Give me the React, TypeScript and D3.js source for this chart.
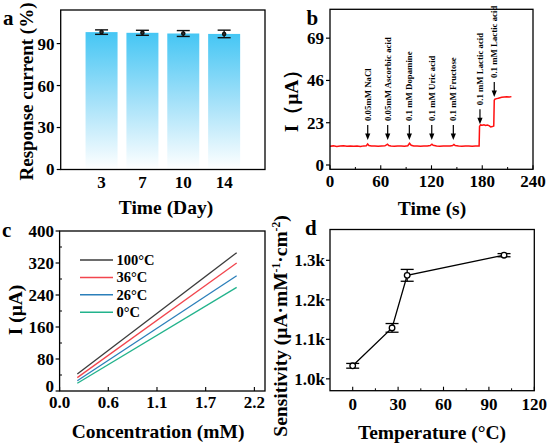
import React from 'react';
import * as d3 from 'd3';

// ---------- Panel a data ----------
const dayLabels = ['3', '7', '10', '14'];
const responseValues = [98.2, 97.7, 97.2, 96.9];
const responseErrors = [1.6, 1.8, 2.1, 2.7];
const responseTicks = [0, 30, 60, 90];

// ---------- Panel b data ----------
const ampTime = [0, 4, 8, 12, 16, 20, 24, 28, 32, 36, 40, 43, 44.5, 46, 49, 53, 57, 61, 65, 68, 69.5, 72, 76, 80, 84, 88, 92, 94, 96, 99, 103, 107, 111, 115, 118.5, 120.5, 122, 126, 130, 134, 138, 142, 145, 146.5, 148, 152, 156, 160, 164, 168, 172, 176.3, 176.8, 178, 180, 182, 184, 186, 188, 190, 192, 193.6, 194.2, 195, 197, 199, 201, 203, 206, 209, 212, 214.5];
const ampCurrent = [10.2, 10.4, 10.1, 10.3, 10.5, 10.2, 10.4, 10.2, 10.3, 10.1, 10.4, 10.5, 11.4, 10.6, 10.3, 10.4, 10.2, 10.3, 10.4, 11.3, 10.6, 10.3, 10.2, 10.4, 10.3, 10.2, 10.5, 11.8, 10.7, 10.3, 10.4, 10.2, 10.3, 10.4, 10.6, 11.3, 10.7, 10.3, 10.2, 10.4, 10.3, 10.4, 10.6, 11.2, 10.6, 10.3, 10.2, 10.4, 10.3, 10.2, 10.3, 10.3, 21.0, 21.8, 21.6, 21.9, 21.5, 21.7, 21.4, 20.7, 20.9, 21.2, 35.2, 35.8, 36.1, 36.3, 36.6, 36.8, 37.0, 37.1, 37.0, 37.2];
const eventTimes = [44.6, 68.2, 93.8, 120.3, 145.8, 177.3, 194.2];
const eventTips = [13.6, 13.6, 13.6, 13.6, 13.6, 22.2, 37.0];
const eventLabels = ['0.05mM NaCl', '0.05mM Ascorbic acid', '0.1 mM Dopamine', '0.1 mM Uric acid', '0.1 mM Fructose', '0.1 mM Lactic acid', '0.1 mM Lactic acid'];
const timeTicks = [0, 60, 120, 180, 240];
const currentTicks = [0, 23, 46, 69];

// ---------- Panel c data ----------
const concentrations = [0.2, 2.0];
const seriesNames = ['100°C', '36°C', '26°C', '0°C'];
const series100 = [42.5, 345.8];
const series36 = [33.5, 320];
const series26 = [25.8, 288];
const series0 = [19.3, 259];
const concTicks = [0, 0.55, 1.1, 1.65, 2.2];
const concTickLabels = ['0.0', '0.6', '1.1', '1.7', '2.2'];
const calTicks = [0, 80, 160, 240, 320, 400];

// ---------- Panel d data ----------
const temperatures = [0, 26, 36, 100];
const sensitivity = [1033, 1129, 1262, 1313];
const sensitivityErr = [6, 11, 15, 4];
const tempTicks = [0, 30, 60, 90, 120];
const sensTicks = [1000, 1100, 1200, 1300];

const FONT = '"Liberation Serif", "Times New Roman", serif';
const seriesColors = ['#3c3c3c', '#f2464e', '#2b7fba', '#22b38c'];

function Frame({ x0, x1, y0, y1 }: { x0: number; x1: number; y0: number; y1: number }) {
  return <rect x={x0} y={y0} width={x1 - x0} height={y1 - y0} fill="none" stroke="#000" strokeWidth={1.3} />;
}

export default function App() {
  // ---------- Panel a ----------
  const aX = d3.scaleLinear().domain([0, 5]).range([60.7, 265]);
  const aY = d3.scaleLinear().domain([0, 114]).range([169.5, 10]);
  const barW = 32;

  // ---------- Panel b ----------
  const bX = d3.scaleLinear().domain([0, 240]).range([330, 533]);
  const bY = d3.scaleLinear().domain([-2.34, 84.7]).range([169.3, 9.3]);
  const bLine = d3
    .line<number>()
    .x((_, i) => bX(ampTime[i]))
    .y((v) => bY(v));

  // ---------- Panel c ----------
  const cX = d3.scaleLinear().domain([0, 2.32]).range([59.6, 265]);
  const cY = d3.scaleLinear().domain([0, 400]).range([391, 231]);
  const cSeries = [series100, series36, series26, series0];
  const cLine = d3
    .line<number>()
    .x((_, i) => cX(concentrations[i]))
    .y((v) => cY(v));

  // ---------- Panel d ----------
  const dX = d3.scaleLinear().domain([-15, 120]).range([330, 534.3]);
  const dY = d3.scaleLinear().domain([970, 1378]).range([390.7, 229.5]);
  const dLine = d3
    .line<number>()
    .x((_, i) => dX(temperatures[i]))
    .y((v) => dY(v));
  const fmtK = (v: number) => (v / 1000).toFixed(1) + 'k';

  const tickFont = 17;
  const titleFont = 19.5;

  return (
    <svg
      width={550}
      height={448}
      viewBox="0 0 550 448"
      style={{ position: 'absolute', left: 0, top: 0, background: '#fff' }}
      fontFamily={FONT}
      fontWeight="bold"
    >
      <defs>
        <linearGradient id="barGrad" x1="0" y1="0" x2="0" y2="1">
          <stop offset="0%" stopColor="#45c6f4" />
          <stop offset="50%" stopColor="#a4e1f9" />
          <stop offset="100%" stopColor="#ffffff" />
        </linearGradient>
      </defs>
      <rect x={0} y={0} width={550} height={448} fill="#fff" />

      {/* ================= Panel a ================= */}
      <g>
        {responseValues.map((v, i) => (
          <rect key={i} x={aX(i + 1) - barW / 2} y={aY(v)} width={barW} height={aY(0) - aY(v)} fill="url(#barGrad)" />
        ))}
        {responseValues.map((v, i) => {
          const cx = aX(i + 1);
          const lo = aY(v - responseErrors[i]);
          const hi = aY(v + responseErrors[i]);
          return (
            <g key={i} stroke="#111" strokeWidth={1.4}>
              <line x1={cx} x2={cx} y1={lo} y2={hi} />
              <line x1={cx - 6.5} x2={cx + 6.5} y1={lo} y2={lo} />
              <line x1={cx - 6.5} x2={cx + 6.5} y1={hi} y2={hi} />
              <circle cx={cx} cy={aY(v)} r={1.6} fill="#333" />
            </g>
          );
        })}
        <Frame x0={60.7} x1={265} y0={10} y1={169.5} />
        {responseTicks.map((t) => (
          <g key={t}>
            <line x1={60.7} x2={56.7} y1={aY(t)} y2={aY(t)} stroke="#000" strokeWidth={1.2} />
            <text x={54.5} y={aY(t)} dy="0.35em" textAnchor="end" fontSize={tickFont}>
              {t}
            </text>
          </g>
        ))}
        {dayLabels.map((l, i) => (
          <text key={l} x={aX(i + 1)} y={188} textAnchor="middle" fontSize={tickFont}>
            {l}
          </text>
        ))}
        <text x={166} y={214} textAnchor="middle" fontSize={titleFont}>
          Time (Day)
        </text>
        <text transform={`translate(33,91.5) rotate(-90)`} textAnchor="middle" fontSize={19}>
          Response current (%)
        </text>
        <text x={3} y={25} fontSize={21}>
          a
        </text>
      </g>

      {/* ================= Panel b ================= */}
      <g>
        <path d={bLine(ampCurrent) || ''} fill="none" stroke="#ff1010" strokeWidth={1.5} />
        {eventTimes.map((t, i) => {
          const x = bX(t);
          const tip = bY(eventTips[i]);
          const top = tip - 15;
          return (
            <g key={i}>
              <line x1={x} x2={x} y1={top} y2={tip - 5} stroke="#000" strokeWidth={1.2} />
              <path d={`M${x - 2.6},${tip - 6.5} L${x + 2.6},${tip - 6.5} L${x},${tip} Z`} fill="#000" />
              <text transform={`translate(${x + 3},${top - 4}) rotate(-90)`} fontSize={8.8}>
                {eventLabels[i]}
              </text>
            </g>
          );
        })}
        <Frame x0={330} x1={533} y0={9.3} y1={169.3} />
        {currentTicks.map((t) => (
          <g key={t}>
            <line x1={330} x2={326} y1={bY(t)} y2={bY(t)} stroke="#000" strokeWidth={1.2} />
            <text x={324} y={bY(t)} dy="0.35em" textAnchor="end" fontSize={tickFont}>
              {t}
            </text>
          </g>
        ))}
        {timeTicks.map((t) => (
          <g key={t}>
            <line x1={bX(t)} x2={bX(t)} y1={169.3} y2={165.3} stroke="#000" strokeWidth={1.1} />
            <text x={bX(t)} y={187} textAnchor="middle" fontSize={tickFont}>
              {t}
            </text>
          </g>
        ))}
        {timeTicks.slice(0, -1).map((t) => (
          <line key={t} x1={bX(t + 30)} x2={bX(t + 30)} y1={169.3} y2={167} stroke="#000" strokeWidth={1} />
        ))}
        <text x={432} y={215} textAnchor="middle" fontSize={titleFont}>
          Time (s)
        </text>
        <text transform={`translate(298,96) rotate(-90)`} textAnchor="middle" fontSize={titleFont}>
          I（μA）
        </text>
        <text x={306.5} y={25} fontSize={21}>
          b
        </text>
      </g>

      {/* ================= Panel c ================= */}
      <g>
        {cSeries.map((s, i) => (
          <path key={i} d={cLine(s) || ''} fill="none" stroke={seriesColors[i]} strokeWidth={1.3} />
        ))}
        {seriesNames.map((n, i) => {
          const y = 260 + i * 17.4;
          return (
            <g key={n}>
              <line x1={80} x2={113} y1={y} y2={y} stroke={seriesColors[i]} strokeWidth={1.5} />
              <text x={116.5} y={y} dy="0.35em" fontSize={14.5}>
                {n}
              </text>
            </g>
          );
        })}
        <Frame x0={59.6} x1={265} y0={231} y1={391} />
        {calTicks.map((t) => (
          <g key={t}>
            <line x1={59.6} x2={55.6} y1={cY(t)} y2={cY(t)} stroke="#000" strokeWidth={1.2} />
            <text x={54} y={cY(t)} dy={t === 0 ? '0.05em' : '0.35em'} textAnchor="end" fontSize={tickFont}>
              {t}
            </text>
          </g>
        ))}
        {calTicks.slice(0, -1).map((t) => (
          <line key={t} x1={59.6} x2={62} y1={cY(t + 40)} y2={cY(t + 40)} stroke="#000" strokeWidth={1} />
        ))}
        {concTicks.map((t, i) => (
          <g key={t}>
            <line x1={cX(t)} x2={cX(t)} y1={391} y2={387} stroke="#000" strokeWidth={1.1} />
            <text x={cX(t)} y={408} textAnchor="middle" fontSize={tickFont}>
              {concTickLabels[i]}
            </text>
          </g>
        ))}
        <text x={158} y={438} textAnchor="middle" fontSize={titleFont}>
          Concentration (mM)
        </text>
        <text transform={`translate(22,310) rotate(-90)`} textAnchor="middle" fontSize={titleFont}>
          I (μA)
        </text>
        <text x={2} y={237} fontSize={21}>
          c
        </text>
      </g>

      {/* ================= Panel d ================= */}
      <g>
        <path d={dLine(sensitivity) || ''} fill="none" stroke="#000" strokeWidth={1.3} />
        {sensitivity.map((v, i) => {
          const cx = dX(temperatures[i]);
          const lo = dY(v - sensitivityErr[i]);
          const hi = dY(v + sensitivityErr[i]);
          return (
            <g key={i} stroke="#000" strokeWidth={1.3}>
              <line x1={cx} x2={cx} y1={lo} y2={hi} />
              <line x1={cx - 6.5} x2={cx + 6.5} y1={lo} y2={lo} />
              <line x1={cx - 6.5} x2={cx + 6.5} y1={hi} y2={hi} />
              <circle cx={cx} cy={dY(v)} r={2.8} fill="#fff" />
            </g>
          );
        })}
        <Frame x0={330} x1={534.3} y0={229.5} y1={390.7} />
        {sensTicks.map((t) => (
          <g key={t}>
            <line x1={330} x2={326} y1={dY(t)} y2={dY(t)} stroke="#000" strokeWidth={1.2} />
            <text x={325} y={dY(t)} dy="0.35em" textAnchor="end" fontSize={tickFont}>
              {fmtK(t)}
            </text>
          </g>
        ))}
        {tempTicks.map((t) => (
          <g key={t}>
            <line x1={dX(t)} x2={dX(t)} y1={390.7} y2={386.7} stroke="#000" strokeWidth={1.1} />
            <text x={dX(t)} y={410} textAnchor="middle" fontSize={tickFont}>
              {t}
            </text>
          </g>
        ))}
        {tempTicks.slice(0, -1).map((t) => (
          <line key={t} x1={dX(t + 15)} x2={dX(t + 15)} y1={390.7} y2={388.3} stroke="#000" strokeWidth={1} />
        ))}
        <text x={432} y={439} textAnchor="middle" fontSize={titleFont}>
          Temperature (°C)
        </text>
        <text transform={`translate(287,326) rotate(-90)`} textAnchor="middle" fontSize={titleFont}>
          Sensitivity (μA·mM
          <tspan dy={-7} fontSize={11.5}>-1</tspan>
          <tspan dy={7}>·cm</tspan>
          <tspan dy={-7} fontSize={11.5}>-2</tspan>
          <tspan dy={7}>)</tspan>
        </text>
        <text x={305} y={235} fontSize={21}>
          d
        </text>
      </g>
    </svg>
  );
}
